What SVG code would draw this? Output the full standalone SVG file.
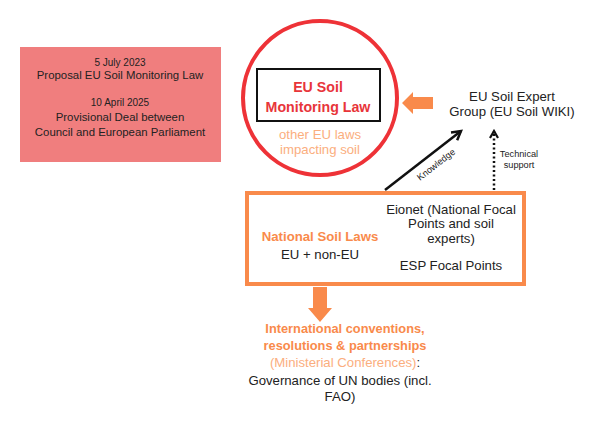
<svg xmlns="http://www.w3.org/2000/svg" width="598" height="423" viewBox="0 0 598 423">
<style>
text{font-family:"Liberation Sans","Open Sans",sans-serif;text-anchor:middle;fill:#222}
.s{font-size:10px}
.m{font-size:11.4px}
.l{font-size:13.2px}
.b{font-weight:bold}
.red{fill:#E8353A}
.or{fill:#F98A4B}
.lor{fill:#FBAE7E}
.tiny{font-size:9.2px}
</style>
<defs>
<marker id="ah" viewBox="0 0 10 10" refX="8" refY="5" markerWidth="5" markerHeight="5" orient="auto"><path d="M1,1 L8,5 L1,9" fill="none" stroke="#111" stroke-width="2"/></marker>
<marker id="ahd" viewBox="0 0 10 10" refX="8" refY="5" markerWidth="4" markerHeight="4" orient="auto"><path d="M1,1 L8,5 L1,9" fill="none" stroke="#111" stroke-width="2.2"/></marker>
</defs>
<rect width="598" height="423" fill="#fff"/>
<g id="timeline">
<rect x="20" y="47" width="201" height="115" fill="#F07E7E"/>
<text class="s" x="120" y="66">5 July 2023</text>
<text class="m" x="120" y="79">Proposal EU Soil Monitoring Law</text>
<text class="s" x="120" y="106">10 April 2025</text>
<text class="m" x="120" y="121">Provisional Deal between<tspan x="120" dy="15">Council and European Parliament</tspan></text>
</g>
<g id="eu-law">
<circle cx="320" cy="98" r="77" fill="none" stroke="#EE3237" stroke-width="4"/>
<rect x="257" y="69" width="123" height="52" fill="none" stroke="#111" stroke-width="2"/>
<text class="b red" x="318" y="92" font-size="14.2">EU Soil<tspan x="318" dy="20">Monitoring Law</tspan></text>
<text class="l lor" x="320" y="139">other EU laws<tspan x="320" dy="15">impacting soil</tspan></text>
</g>
<g id="expert-group">
<text class="l" x="512" y="101">EU Soil Expert<tspan x="512" dy="14.8">Group (EU Soil WIKI)</tspan></text>
</g>
<g id="national">
<rect x="247" y="193" width="277" height="91" fill="#fff" stroke="#F98A4B" stroke-width="4"/>
<text class="l b or" x="320" y="241">National Soil Laws</text>
<text class="l" x="320" y="259">EU + non-EU</text>
<text class="l" x="451" y="213.5">Eionet (National Focal<tspan x="451" dy="14.8">Points and soil</tspan><tspan x="451" dy="14.8">experts)</tspan></text>
<text class="l" x="451" y="270">ESP Focal Points</text>
</g>
<g id="international">
<text class="b or" font-size="12.8" x="345" y="333">International conventions,<tspan x="345" dy="17">resolutions &amp; partnerships</tspan></text>
<text class="l" x="345" y="367" font-size="14.3"><tspan class="lor">(Ministerial Conferences)</tspan>:<tspan x="340" dy="17.5">Governance of UN bodies (incl.</tspan><tspan x="340" dy="16.3">FAO)</tspan></text>
</g>
<g id="connectors">
<path d="M402,103 L413,92 L413,97 L433,97 L433,109 L413,109 L413,114 Z" fill="#F98A4B"/>
<path d="M313,287 L327,287 L327,308 L332,308 L320,322 L308,308 L313,308 Z" fill="#F98A4B"/>
<line x1="385" y1="190" x2="461" y2="131" stroke="#111" stroke-width="2.5" marker-end="url(#ah)"/>
<text class="tiny" transform="translate(438,167) rotate(-38)">Knowledge</text>
<line x1="494" y1="190" x2="494" y2="131" stroke="#111" stroke-width="2.5" stroke-dasharray="2 2.5" marker-end="url(#ahd)"/>
<text class="tiny" x="519" y="157">Technical<tspan x="519" dy="10.5">support</tspan></text>
</g>
</svg>
